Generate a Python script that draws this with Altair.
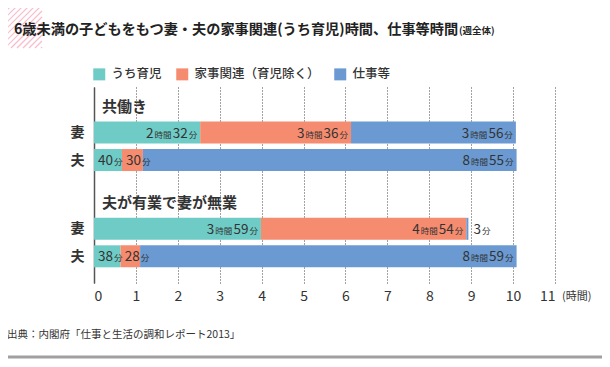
import altair as alt
import pandas as pd

# ---------------- data ----------------
categories = ["うち育児", "家事関連（育児除く）", "仕事等"]
colors = ["#6fcbc6", "#f68c6f", "#6a9ad1"]
groups = ["共働き", "夫が有業で妻が無業"]
persons = ["妻", "夫"]
# minutes per category (うち育児, 家事関連（育児除く）, 仕事等)
dual_wife = [152, 216, 236]
dual_husband = [40, 30, 535]
single_wife = [239, 294, 3]
single_husband = [38, 28, 539]
rows = [1, 2, 4.5, 5.5]
x_ticks = list(range(0, 12))

title_text = "6歳未満の子どもをもつ妻・夫の家事関連(うち育児)時間、仕事等時間"
title_sub = "(週全体)"
source_text = "出典：内閣府「仕事と生活の調和レポート2013」"

W, H = 461, 196
ppu = W / 11.0
FONT = "Noto Sans CJK JP"
BIG, SMALL = 13.5, 8.5
DIGIT_W = 0.56 * BIG
GAP = 1.0

series = [dual_wife, dual_husband, single_wife, single_husband]
labels_rows = [(groups[0], persons[0]), (groups[0], persons[1]),
               (groups[1], persons[0]), (groups[1], persons[1])]

bar_recs, lab_recs = [], []
for (g, p), vals, r in zip(labels_rows, series, rows):
    start = 0.0
    for cat, v in zip(categories, vals):
        end = start + v / 60.0
        bar_recs.append(dict(group=g, person=p, cat=cat, start=start, end=end,
                             y1=r - 0.4, y2=r + 0.4))
        h, m = divmod(v, 60)
        parts = [("分", SMALL, SMALL), (str(m), BIG, DIGIT_W * len(str(m)))]
        if h:
            parts += [("時間", SMALL, 2 * SMALL), (str(h), BIG, DIGIT_W * len(str(h)))]
        total = sum(pw for _, _, pw in parts) + GAP * (len(parts) - 1)
        seg_px = (end - start) * ppu
        if v < 10:                      # tiny segment: label outside on the right
            right = 5 + total
            base = end
        elif seg_px < total + 8:        # short segment: label from segment start
            right = 4 + total
            base = start
        else:                           # normal: right aligned at segment end
            right = -3
            base = end
        cur = right
        for t, fs, pw in parts:
            lab_recs.append(dict(text=t, fs=fs, x=base + cur / ppu, row=r))
            cur -= pw + GAP
        start = end

bars = pd.DataFrame(bar_recs)
labs = pd.DataFrame(lab_recs)
grp = pd.DataFrame(dict(text=groups, row=[rows[0] - 0.93, rows[2] - 0.93]))

# decorative stripes in top-left corner (pixel coords relative to plot origin)
x0, x1, y0, y1 = -90, -52, -83, -39
stripe_recs = []
c = x0 + y0 + 3
while c < x1 + y1:
    pts = []
    for xx in (x0, x1):
        yy = c - xx
        if y0 <= yy <= y1:
            pts.append((xx, yy))
    for yy in (y0, y1):
        xx = c - yy
        if x0 <= xx <= x1:
            pts.append((xx, yy))
    if len(pts) >= 2:
        (ax, ay), (bx, by) = pts[0], pts[1]
        stripe_recs.append(dict(ax=ax, ay=ay, bx=bx, by=by))
    c += 6
stripes = pd.DataFrame(stripe_recs)

# ---------------- chart ----------------
xscale = alt.Scale(domain=[0, 11], nice=False, zero=False)
yscale = alt.Scale(domain=[-0.655, 6.47], nice=False, zero=False, reverse=True)

label_expr = "indexof([1,4.5], datum.value) >= 0 ? '妻' : '夫'"

bar_layer = alt.Chart(bars).mark_bar().encode(
    x=alt.X("start:Q", scale=xscale,
            axis=alt.Axis(values=x_ticks, title=None, grid=True, gridDash=[1, 2],
                          gridColor="#444", gridWidth=1, domain=False, ticks=False,
                          labelFontSize=14, labelColor="#333", labelFont=FONT,
                          labelPadding=6)),
    x2="end:Q",
    y=alt.Y("y1:Q", scale=yscale,
            axis=alt.Axis(values=rows, labelExpr=label_expr, title=None, grid=False,
                          ticks=False, domain=True, domainColor="#555", domainWidth=1.5,
                          labelFontSize=14, labelFontWeight="bold", labelColor="#333",
                          labelFont=FONT, labelPadding=10)),
    y2="y2:Q",
    color=alt.Color("cat:N", scale=alt.Scale(domain=categories, range=colors),
                    legend=alt.Legend(orient="none", legendX=-1, legendY=-19,
                                      direction="horizontal", title=None,
                                      symbolType="square", symbolSize=144,
                                      symbolStrokeWidth=0, labelFontSize=12.5,
                                      labelFont=FONT, labelColor="#333",
                                      labelFontWeight=500,
                                      labelOffset=6, columnPadding=14)),
)

lab_layer = alt.Chart(labs).mark_text(align="right", baseline="alphabetic", dy=5,
                                      font=FONT, color="#333").encode(
    x=alt.X("x:Q", scale=xscale),
    y=alt.Y("row:Q", scale=yscale),
    text="text:N",
    size=alt.Size("fs:Q", scale=None),
)

grp_layer = alt.Chart(grp).mark_text(align="left", baseline="middle", font=FONT,
                                     fontSize=15, fontWeight="bold", color="#333").encode(
    x=alt.value(8),
    y=alt.Y("row:Q", scale=yscale),
    text="text:N",
)

stripe_layer = alt.Chart(stripes).mark_rule(color="#f8bccb", strokeWidth=1.2).encode(
    x=alt.X("ax:Q", scale=None), y=alt.Y("ay:Q", scale=None),
    x2="bx:Q", y2="by:Q",
)

title_layer = alt.Chart(pd.DataFrame(dict(t=[title_text]))).mark_text(
    align="left", baseline="alphabetic", font=FONT, fontSize=14.2, fontWeight="bold",
    color="#222").encode(x=alt.value(-80), y=alt.value(-53), text="t:N")

sub_layer = alt.Chart(pd.DataFrame(dict(t=[title_sub]))).mark_text(
    align="left", baseline="alphabetic", font=FONT, fontSize=9.5, fontWeight="bold",
    color="#222").encode(x=alt.value(365), y=alt.value(-53), text="t:N")

src_layer = alt.Chart(pd.DataFrame(dict(t=[source_text]))).mark_text(
    align="left", baseline="middle", font=FONT, fontSize=10.5, color="#333").encode(
    x=alt.value(-87), y=alt.value(248), text="t:N")

unit_layer = alt.Chart(pd.DataFrame(dict(t=["(時間)"], v=[11]))).mark_text(
    align="left", baseline="middle", font=FONT, fontSize=11, color="#333", dx=7).encode(
    x=alt.X("v:Q", scale=xscale), y=alt.value(H + 14), text="t:N")

line_layer = alt.Chart(pd.DataFrame(dict(a=[0]))).mark_rule(
    color="#a0a0a0", strokeWidth=3).encode(
    x=alt.value(-86), x2=alt.value(508), y=alt.value(270))

chart = alt.layer(
    bar_layer, lab_layer, grp_layer, stripe_layer, title_layer, sub_layer,
    src_layer, unit_layer, line_layer
).properties(
    width=W, height=H,
    autosize=alt.AutoSizeParams(type="none"),
    padding={"left": 86, "top": 79, "right": 47, "bottom": 76},
    background="white",
).configure_view(stroke=None)

chart.save("out.html", embed_options={"renderer": "svg", "actions": False})
